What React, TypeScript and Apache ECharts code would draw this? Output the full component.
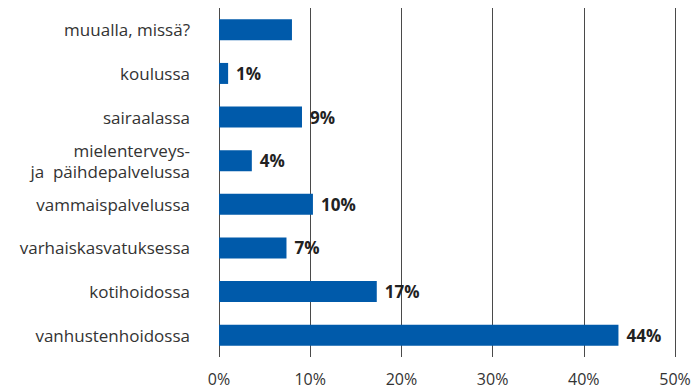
import React, { useEffect, useRef } from "react";
import * as echarts from "echarts";

const categories = [
  "vanhustenhoidossa",
  "kotihoidossa",
  "varhaiskasvatuksessa",
  "vammaispalvelussa",
  "mielenterveys-\nja  päihdepalvelussa",
  "sairaalassa",
  "koulussa",
  "muualla, missä?",
];
const values = [43.8, 17.3, 7.4, 10.3, 3.6, 9.1, 1.0, 8.0];
const valueLabels = ["44%", "17%", "7%", "10%", "4%", "9%", "1%", ""];
const xTicks = [0, 10, 20, 30, 40, 50];

const FONT = "'Open Sans', sans-serif";

export default function App() {
  const ref = useRef<HTMLDivElement>(null);
  useEffect(() => {
    if (!ref.current) return;
    const chart = echarts.init(ref.current, null, { renderer: "svg" });
    chart.setOption({
      animation: false,
      grid: { left: 219, right: 21, top: 8, bottom: 32, containLabel: false },
      xAxis: {
        type: "value",
        min: xTicks[0],
        max: xTicks[xTicks.length - 1],
        interval: 10,
        axisLine: { show: false },
        axisTick: { show: false },
        splitLine: { show: true, lineStyle: { color: "#4a4a4a", width: 1 } },
        axisLabel: {
          formatter: (v: number) => `${v}%`,
          color: "#333",
          fontFamily: FONT,
          fontSize: 16,
          lineHeight: 16,
          margin: 14,
        },
      },
      yAxis: {
        type: "category",
        data: categories,
        axisLine: { show: false },
        axisTick: { show: false },
        axisLabel: {
          color: "#333",
          fontFamily: FONT,
          fontSize: 17,
          margin: 29,
          lineHeight: 21,
          align: "right",
        },
      },
      series: [
        {
          type: "bar",
          data: values,
          barWidth: 21,
          itemStyle: { color: "#005aaa" },
          label: {
            show: true,
            position: "right",
            distance: 8,
            formatter: (p: any) => valueLabels[p.dataIndex],
            color: "#222",
            fontFamily: FONT,
            fontWeight: "bold",
            fontSize: 17,
          },
        },
      ],
    });
    return () => chart.dispose();
  }, []);
  return <div ref={ref} style={{ width: 696, height: 389, position: "absolute", left: 0, top: 0 }} />;
}
